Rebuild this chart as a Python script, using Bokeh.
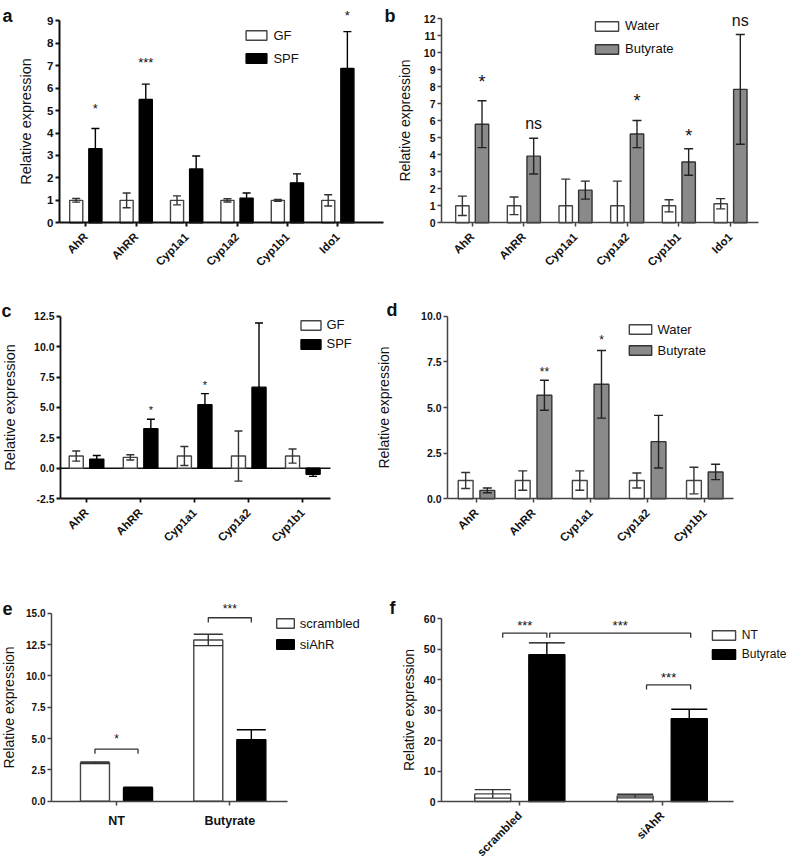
import math
from bokeh.plotting import figure
from bokeh.models import (Range1d, FixedTicker, NumeralTickFormatter, Legend,
                          LegendItem, Label)
from bokeh.layouts import row, column
from bokeh.embed import file_html
from bokeh.resources import INLINE
from bokeh.core.properties import value

FONT = "Liberation Sans"

# ---------------- data ----------------
a_genes = ["AhR", "AhRR", "Cyp1a1", "Cyp1a2", "Cyp1b1", "Ido1"]
a_gf = [1.0, 1.0, 1.0, 1.0, 1.0, 1.0]
a_gf_err = [0.08, 0.33, 0.2, 0.07, 0.04, 0.25]
a_spf = [3.3, 5.5, 2.4, 1.1, 1.78, 6.88]
a_spf_err = [0.9, 0.68, 0.58, 0.23, 0.4, 1.64]
a_sig = ["*", "***", "", "", "", "*"]
a_sig_y = [5.08, 7.13, 0, 0, 0, 9.24]
a_yticks = [0, 1, 2, 3, 4, 5, 6, 7, 8, 9]

b_genes = ["AhR", "AhRR", "Cyp1a1", "Cyp1a2", "Cyp1b1", "Ido1"]
b_water = [1.0, 1.0, 1.0, 1.0, 1.0, 1.12]
b_water_err = [0.57, 0.52, 1.57, 1.45, 0.36, 0.3]
b_but = [5.8, 3.92, 1.92, 5.22, 3.58, 7.85]
b_but_err = [1.38, 1.05, 0.53, 0.8, 0.78, 3.23]
b_sig = ["*", "ns", "", "*", "*", "ns"]
b_sig_y = [8.27, 5.82, 0, 7.19, 5.13, 11.9]
b_yticks = [0, 1, 2, 3, 4, 5, 6, 7, 8, 9, 10, 11, 12]

c_genes = ["AhR", "AhRR", "Cyp1a1", "Cyp1a2", "Cyp1b1"]
c_gf = [1.0, 0.89, 1.0, 1.0, 1.0]
c_gf_err = [0.42, 0.22, 0.78, 2.06, 0.58]
c_spf = [0.75, 3.25, 5.22, 6.67, -0.5]
c_spf_err = [0.3, 0.78, 0.92, 5.28, 0.17]
c_sig = ["", "*", "*", "", ""]
c_sig_y = [0, 4.75, 6.86, 0, 0]
c_yticks = [-2.5, 0, 2.5, 5, 7.5, 10, 12.5]

d_genes = ["AhR", "AhRR", "Cyp1a1", "Cyp1a2", "Cyp1b1"]
d_water = [1.0, 1.0, 1.0, 1.0, 1.0]
d_water_err = [0.44, 0.53, 0.53, 0.41, 0.73]
d_but = [0.46, 5.67, 6.27, 3.13, 1.47]
d_but_err = [0.13, 0.82, 1.85, 1.44, 0.42]
d_sig = ["", "**", "*", "", ""]
d_sig_y = [0, 6.93, 8.7, 0, 0]
d_yticks = [0, 2.5, 5, 7.5, 10]

e_groups = ["NT", "Butyrate"]
e_scr = [3.07, 12.87]
e_scr_err = [0.07, 0.45]
e_si = [1.07, 4.9]
e_si_err = [0.04, 0.8]
e_sig = ["*", "***"]
e_bracket_y = [4.15, 14.64]
e_sig_y = [4.98, 15.35]
e_yticks = [0, 2.5, 5, 7.5, 10, 12.5, 15]

f_groups = ["scrambled", "siAhR"]
f_nt = [2.5, 1.8]
f_nt_err = [1.4, 0.6]
f_but = [48.2, 27.2]
f_but_err = [3.9, 3.1]
f_br_x0 = [-0.12, 0.21, 0.89]
f_br_x1 = [0.19, 1.2, 1.2]
f_br_y = [55.3, 55.3, 38.3]
f_br_lab = ["***", "***", "***"]
f_br_lab_y = [57.8, 57.8, 40.6]
f_yticks = [0, 10, 20, 30, 40, 50, 60]

OFF = 0.19
BW = 0.26


class Panel:
    """Figure whose frame covers the whole canvas; axes placed with fixed_location."""

    def __init__(self, ox, oy, w, h, x0, sx, y0, sy, yaxis_px, xend_px, ybounds, xaxis_y=0):
        self.ox, self.oy, self.w, self.h = ox, oy, w, h
        xr = ((ox - x0) / sx, (ox + w - x0) / sx)
        yr = ((y0 - (oy + h)) / sy, (y0 - oy) / sy)
        p = figure(width=w, height=h, x_range=Range1d(*xr), y_range=Range1d(*yr),
                   output_backend="svg", toolbar_location=None,
                   min_border_left=0, min_border_right=0,
                   min_border_top=0, min_border_bottom=0)
        p.xgrid.visible = False
        p.ygrid.visible = False
        p.outline_line_color = None
        p.background_fill_color = "white"
        p.border_fill_color = "white"
        self.p = p
        self.xstart = (yaxis_px - x0) / sx
        self.xend = (xend_px - x0) / sx
        p.yaxis[0].fixed_location = self.xstart
        p.xaxis[0].fixed_location = xaxis_y
        p.xaxis[0].bounds = (self.xstart, self.xend)
        p.yaxis[0].bounds = ybounds

    def sx(self, px):
        return px - self.ox

    def sy(self, py):
        return (self.oy + self.h) - py


def style_axes(P, labels, yticks, yfmt, ytick_size, xtick_size, rotate,
               xstand, ylab_stand, color="#222", lw=1.5, ylab_size="14px"):
    p = P.p
    xa, ya = p.xaxis[0], p.yaxis[0]
    for ax in (xa, ya):
        ax.axis_line_color = color
        ax.axis_line_width = lw
        ax.major_tick_line_color = color
        ax.major_tick_line_width = lw
        ax.major_tick_in = 0
        ax.major_tick_out = 4
        ax.minor_tick_line_color = None
        ax.major_label_text_font = FONT
        ax.major_label_text_font_style = "bold"
        ax.major_label_text_color = "#111"
    xa.ticker = FixedTicker(ticks=list(range(len(labels))))
    xa.major_label_overrides = {i: s for i, s in enumerate(labels)}
    xa.major_label_text_font_size = xtick_size
    xa.major_label_standoff = xstand
    if rotate:
        xa.major_label_orientation = math.pi / 4
    ya.ticker = FixedTicker(ticks=yticks)
    ya.formatter = NumeralTickFormatter(format=yfmt)
    ya.major_label_text_font_size = ytick_size
    ya.major_label_standoff = 2
    ya.axis_label = "Relative expression"
    ya.axis_label_text_font = FONT
    ya.axis_label_text_font_style = "normal"
    ya.axis_label_text_font_size = ylab_size
    ya.axis_label_text_color = "#111"
    ya.axis_label_standoff = ylab_stand


def error_bars(p, xs, vals, errs, color, cap):
    lo = [v - e for v, e in zip(vals, errs)]
    hi = [v + e for v, e in zip(vals, errs)]
    p.segment(x0=xs, y0=lo, x1=xs, y1=hi, line_color=color, line_width=1.4)
    p.scatter(x=list(xs) + list(xs), y=lo + hi, marker="dash", size=cap,
              line_color=color, line_width=1.4)


def grouped(P, n, v1, e1, v2, e2, fill1, line1, fill2, line2, ecol1, ecol2, cap,
            width=BW, off=OFF, floor=None):
    p = P.p
    x1 = [i - off for i in range(n)]
    x2 = [i + off for i in range(n)]
    r1 = p.vbar(x=x1, top=v1, width=width, fill_color=fill1, line_color=line1, line_width=1.4)
    r2 = p.vbar(x=x2, top=v2, width=width, fill_color=fill2, line_color=line2, line_width=1.4)
    for xs, v, e, col in ((x1, v1, e1, ecol1), (x2, v2, e2, ecol2)):
        if floor is None:
            error_bars(p, xs, v, e, col, cap)
        else:
            lo = [max(a - b, floor) for a, b in zip(v, e)]
            hi = [a + b for a, b in zip(v, e)]
            p.segment(x0=xs, y0=lo, x1=xs, y1=hi, line_color=col, line_width=1.4)
            capx = [x for x, a, b in zip(xs, v, e) if a - b >= floor] + list(xs)
            capy = [a - b for a, b in zip(v, e) if a - b >= floor] + hi
            p.scatter(x=capx, y=capy, marker="dash", size=cap, line_color=col, line_width=1.4)
    return r1, r2, x1, x2


def sig_text(p, xs, labels, ys, size):
    keep = [(x, l, y) for x, l, y in zip(xs, labels, ys) if l]
    if not keep:
        return
    p.text(x=[k[0] for k in keep], y=[k[2] for k in keep], text=[k[1] for k in keep],
           text_align="center", text_baseline="middle", text_font=value(FONT),
           text_font_size=size, text_color="#111")


def add_legend(P, rends, labels, box_left, box_top, box_w, pitch, size="13px"):
    gw = int(round(box_w / 0.8))
    gh = 12
    H = 15
    sp = int(round(pitch - H))
    top = box_top - 0.1 * gh
    height = 2 * H + sp
    lg = Legend(items=[LegendItem(label=l, renderers=[r]) for l, r in zip(labels, rends)],
                location=(P.sx(box_left - 0.1 * gw), P.sy(top + height)),
                orientation="vertical", glyph_width=gw, glyph_height=gh, label_height=gh,
                spacing=sp, padding=0, margin=0, border_line_color=None,
                background_fill_alpha=0, label_standoff=4,
                label_text_font=FONT, label_text_font_size=size,
                label_text_color="#111")
    P.p.add_layout(lg)


def letter(P, t, px, baseline):
    P.p.add_layout(Label(x=max(P.sx(px), 0), y=P.sy(baseline), x_units="screen",
                         y_units="screen", text=t, text_font=FONT,
                         text_font_style="bold", text_font_size="18px",
                         text_baseline="alphabetic", text_color="#111"))


# ---------------- panel a ----------------
A = Panel(0, 0, 384, 300, 85.3, 50.4, 222.3, 22.44, 59, 383, (0, 9))
style_axes(A, a_genes, a_yticks, "0", "11.5px", "11.5px", True, 8, 10,
           color="#111", lw=2, ylab_size="14.5px")
ra1, ra2, ax1, ax2 = grouped(A, 6, a_gf, a_gf_err, a_spf, a_spf_err,
                             "white", "#444", "black", "black", "#333", "black", 8)
sig_text(A.p, ax2, a_sig, a_sig_y, "13px")
add_legend(A, [ra1, ra2], ["GF", "SPF"], 246, 29, 21, 23.5)
letter(A, "a", 2, 15)

# ---------------- panel b ----------------
B = Panel(384, 0, 402, 300, 471.7, 51.66, 222.3, 17.0, 441, 758, (0, 12))
style_axes(B, b_genes, b_yticks, "0", "10.5px", "11.5px", True, 8, 8,
           color="#444", lw=1.5)
rb1, rb2, bx1, bx2 = grouped(B, 6, b_water, b_water_err, b_but, b_but_err,
                             "white", "#444", "#8a8a8a", "#333", "#333", "#222", 9,
                             floor=0)
stars_b = [s if s == "*" else "" for s in b_sig]
ns_b = [s if s == "ns" else "" for s in b_sig]
sig_text(B.p, bx2, stars_b, b_sig_y, "18px")
sig_text(B.p, bx2, ns_b, b_sig_y, "16px")
add_legend(B, [rb1, rb2], ["Water", "Butyrate"], 595, 19.3, 23, 23.5)
letter(B, "b", 384, 15)

# ---------------- panel c ----------------
C = Panel(0, 300, 370, 290, 86, 54.08, 467.7, 12.15, 60, 330, (-2.5, 12.5), xaxis_y=-2.5)
style_axes(C, c_genes, c_yticks, "0.0", "10.5px", "11.5px", True, 8, 13,
           color="#111", lw=1.8, ylab_size="14.5px")
C.p.segment(x0=[C.xstart], y0=[0], x1=[C.xend], y1=[0], line_color="#111", line_width=1.6)
rc1, rc2, cx1, cx2 = grouped(C, 5, c_gf, c_gf_err, c_spf, c_spf_err,
                             "white", "#444", "black", "black", "#333", "black", 8)
sig_text(C.p, cx2, c_sig, c_sig_y, "11px")
add_legend(C, [rc1, rc2], ["GF", "SPF"], 300, 318.3, 20, 19)
letter(C, "c", 1, 310)

# ---------------- panel d ----------------
D = Panel(370, 300, 416, 290, 476, 57.07, 498.3, 18.26, 447, 733, (0, 10))
style_axes(D, d_genes, d_yticks, "0.0", "10.5px", "11.5px", True, 8, 26,
           color="#444", lw=1.5)
rd1, rd2, dx1, dx2 = grouped(D, 5, d_water, d_water_err, d_but, d_but_err,
                             "white", "#444", "#8a8a8a", "#333", "#333", "#222", 9)
sig_text(D.p, dx2, d_sig, d_sig_y, "12px")
add_legend(D, [rd1, rd2], ["Water", "Butyrate"], 628.3, 322.7, 22, 21.5)
letter(D, "d", 386, 309)

# ---------------- panel e ----------------
E = Panel(0, 590, 380, 274, 116, 113.3, 800.7, 12.53, 51, 287, (0, 15))
style_axes(E, e_groups, e_yticks, "0.0", "10px", "12.5px", False, 9, 6,
           color="#444", lw=1.5)
re1, re2, ex1, ex2 = grouped(E, 2, e_scr, e_scr_err, e_si, e_si_err,
                             "white", "#444", "black", "black", "#333", "black", 29,
                             width=0.256)
for i in range(2):
    xa0, xa1, yb = ex1[i], ex2[i], e_bracket_y[i]
    E.p.line(x=[xa0, xa0, xa1, xa1], y=[yb - 0.37, yb, yb, yb - 0.37],
             line_color="#333", line_width=1.3)
sig_text(E.p, [(a + b) / 2 for a, b in zip(ex1, ex2)], e_sig, e_sig_y, "12px")
add_legend(E, [re1, re2], ["scrambled", "siAhR"], 276, 616.7, 17.3, 21.5)
letter(E, "e", 2, 608)

# ---------------- panel f ----------------
F = Panel(380, 590, 406, 274, 519.3, 142.4, 801, 3.045, 441, 733, (0, 60))
style_axes(F, f_groups, f_yticks, "0", "10.5px", "11.5px", True, 8, 4,
           color="#444", lw=1.5)
rf1, rf2, fx1, fx2 = grouped(F, 2, f_nt, f_nt_err, f_but, f_but_err,
                             "white", "#444", "black", "black", "#333", "black", 36,
                             width=0.253)
for x0, x1, yb in zip(f_br_x0, f_br_x1, f_br_y):
    F.p.line(x=[x0, x0, x1, x1], y=[yb - 1.5, yb, yb, yb - 1.5],
             line_color="#333", line_width=1.3)
sig_text(F.p, [(a + b) / 2 for a, b in zip(f_br_x0, f_br_x1)], f_br_lab, f_br_lab_y, "13px")
add_legend(F, [rf1, rf2], ["NT", "Butyrate"], 711.7, 626.7, 23.3, 20, size="12px")
letter(F, "f", 389, 607)

layout = column(row(A.p, B.p), row(C.p, D.p), row(E.p, F.p))
open("out.html", "w").write(file_html(layout, INLINE))
